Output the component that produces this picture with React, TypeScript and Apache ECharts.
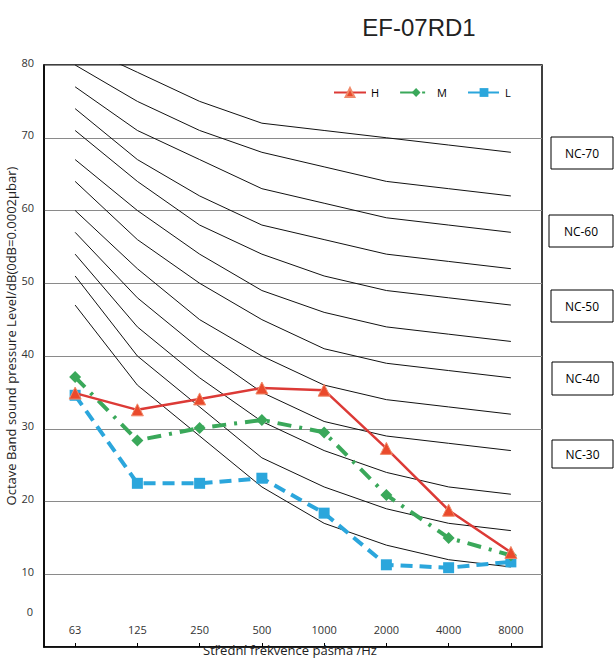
import React, { useEffect, useRef } from "react";
import * as echarts from "echarts";

const categories = ["63", "125", "250", "500", "1000", "2000", "4000", "8000"];
const seriesH = [34.9, 32.6, 34.1, 35.6, 35.3, 27.3, 18.8, 13.0];
const seriesM = [37.1, 28.4, 30.1, 31.2, 29.5, 20.9, 15.0, 12.6];
const seriesL = [34.6, 22.5, 22.5, 23.2, 18.4, 11.3, 10.9, 11.7];

const ncNames = ["NC-15", "NC-20", "NC-25", "NC-30", "NC-35", "NC-40", "NC-45", "NC-50", "NC-55", "NC-60", "NC-65", "NC-70"];
const ncValues = [
  [47, 36, 29, 22, 17, 14, 12, 11],
  [51, 40, 33, 26, 22, 19, 17, 16],
  [54, 44, 37, 31, 27, 24, 22, 21],
  [57, 48, 41, 35, 31, 29, 28, 27],
  [60, 52, 45, 40, 36, 34, 33, 32],
  [64, 56, 50, 45, 41, 39, 38, 37],
  [67, 60, 54, 49, 46, 44, 43, 42],
  [71, 64, 58, 54, 51, 49, 48, 47],
  [74, 67, 62, 58, 56, 54, 53, 52],
  [77, 71, 67, 63, 61, 59, 58, 57],
  [80, 75, 71, 68, 66, 64, 63, 62],
  [83, 79, 75, 72, 71, 70, 69, 68],
];

const boxLabels = ["NC-70", "NC-60", "NC-50", "NC-40", "NC-30"];
const yAxisName = "Octave Band sound pressure Level/dB(0dB=0.0002µbar)";
const titleText = "EF-07RD1";
const xAxisName = "Střední frekvence pásma /Hz";

export default function App() {
  const ref = useRef<HTMLDivElement>(null);
  useEffect(() => {
    document.body.style.margin = "0";
    if (!ref.current) return;
    const chart = echarts.init(ref.current, undefined, { renderer: "svg" });
    const font = "'Open Sans', 'Liberation Sans', sans-serif";
    const boxPos = [
      { x: 551, y: 137, w: 62, h: 32 },
      { x: 549, y: 215, w: 64, h: 32 },
      { x: 551, y: 290, w: 62, h: 32 },
      { x: 552, y: 362, w: 61, h: 33 },
      { x: 552, y: 440, w: 61, h: 28 },
    ];
    const graphics: any[] = [];
    boxLabels.forEach((t, i) => {
      const b = boxPos[i];
      graphics.push({
        type: "rect",
        shape: { x: b.x, y: b.y, width: b.w, height: b.h },
        style: { fill: "#fff", stroke: "#000", lineWidth: 1 },
      });
      graphics.push({
        type: "text",
        x: b.x + b.w / 2,
        y: b.y + b.h / 2,
        style: { text: t, fill: "#000", font: `12px ${font}`, align: "center", verticalAlign: "middle" },
      });
    });
    graphics.push({
      type: "text",
      x: 11,
      y: 336,
      rotation: Math.PI / 2,
      style: {
        text: yAxisName,
        fill: "#222",
        font: `13px ${font}`,
        align: "center",
        verticalAlign: "middle",
      },
    });
    graphics.push({
      type: "text",
      x: 30,
      y: 611,
      style: { text: "0", fill: "#333", font: `11px ${font}`, align: "center", verticalAlign: "middle" },
    });
    graphics.push({
      type: "text",
      x: 290,
      y: 650,
      z: 10,
      style: { text: xAxisName, fill: "#222", font: `13px ${font}`, align: "center", verticalAlign: "middle" },
    });

    const ncSeries = ncValues.map((vals, i) => ({
      name: ncNames[i],
      type: "line",
      data: vals,
      symbol: "none",
      silent: true,
      z: 1,
      lineStyle: { color: "#111", width: 1 },
      emphasis: { disabled: true },
    }));

    chart.setOption({
      animation: false,
      title: {
        text: titleText,
        left: 414,
        top: 10,
        textAlign: "center",
        textStyle: { fontSize: 24, fontWeight: "normal", color: "#222", fontFamily: "'Liberation Sans', Arial, sans-serif" },
      },
      legend: {
        data: ["H", "M", "L"],
        left: 328,
        top: 82,
        itemWidth: 32,
        itemHeight: 11,
        itemGap: 20,
        textStyle: { fontSize: 11, color: "#000", fontFamily: font },
      },
      grid: {
        left: 44,
        top: 65,
        right: 72,
        bottom: 12,
        show: true,
        borderColor: "#000",
        borderWidth: 1.5,
        containLabel: false,
        outerBoundsMode: "none",
      },
      xAxis: {
        type: "category",
        data: categories,
        boundaryGap: true,
        axisLine: { lineStyle: { color: "#000", width: 1.5 } },
        axisTick: { show: true, inside: true, alignWithLabel: true, length: 4, lineStyle: { color: "#000" } },
        axisLabel: { inside: true, margin: 12, fontSize: 11, color: "#333", fontFamily: font },
        splitLine: { show: false },
      },
      yAxis: {
        type: "value",
        min: 0,
        max: 80,
        interval: 10,
        axisLine: { show: true, lineStyle: { color: "#000", width: 1.5 } },
        axisTick: { show: false },
        axisLabel: {
          fontSize: 11,
          color: "#333",
          fontFamily: font,
          margin: 10,
          verticalAlign: "bottom",
          lineHeight: 6,
          formatter: (v: number) => (v === 0 ? "" : String(v)),
        },
        splitLine: { show: true, lineStyle: { color: "#8a8a8a", width: 1.2 } },
      },
      graphic: graphics,
      series: [
        ...ncSeries,
        {
          name: "H",
          type: "line",
          data: seriesH,
          z: 5,
          symbol: "triangle",
          symbolSize: 12,
          itemStyle: { color: "#ea4a2c", borderColor: "#f08a6a", borderWidth: 1 },
          lineStyle: { color: "#dc3a36", width: 2.5, type: "solid" },
        },
        {
          name: "M",
          type: "line",
          data: seriesM,
          z: 4,
          symbol: "diamond",
          symbolSize: 12,
          itemStyle: { color: "#3aa85a" },
          lineStyle: { color: "#3aa85a", width: 4, type: [14, 8, 3, 8] },
        },
        {
          name: "L",
          type: "line",
          data: seriesL,
          z: 3,
          symbol: "rect",
          symbolSize: 11,
          itemStyle: { color: "#2ba6dc" },
          lineStyle: { color: "#2ba6dc", width: 4, type: [12, 7] },
        },
      ],
    });
    return () => chart.dispose();
  }, []);
  return <div ref={ref} style={{ width: 614, height: 659 }} />;
}
